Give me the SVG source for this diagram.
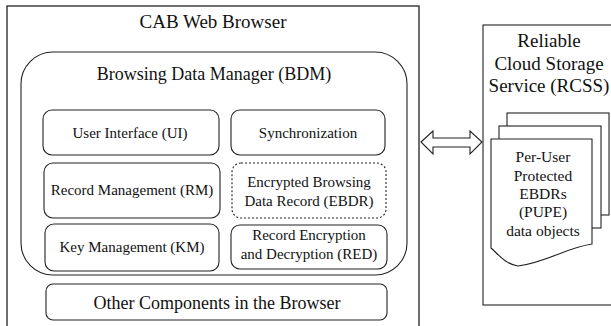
<svg xmlns="http://www.w3.org/2000/svg" width="611" height="326" viewBox="0 0 611 326">
<style>
.box{fill:#fff;stroke:#222;stroke-width:1.1}
.dash{fill:#fff;stroke:#222;stroke-width:1.1;stroke-dasharray:2,2}
.outer{fill:none;stroke:#333;stroke-width:1.4}
text{font-family:'Liberation Serif','DejaVu Serif',serif;fill:#111;text-anchor:middle}
.t19{font-size:19px}
.t18{font-size:18px}
.t15{font-size:15px}
.t16{font-size:15.5px}
</style>
<rect width="611" height="326" fill="#fff"/>
<g id="cab">
<rect class="outer" x="7" y="6" width="412" height="330"/>
<text class="t19" x="213" y="28">CAB Web Browser</text>
</g>
<g id="bdm">
<rect class="box" x="21" y="52" width="386" height="223" rx="32" ry="32"/>
<text class="t18" x="214" y="80">Browsing Data Manager (BDM)</text>
</g>
<g id="ui">
<rect class="box" x="43" y="110" width="176" height="45" rx="9"/>
<text class="t15" x="130" y="138">User Interface (UI)</text>
</g>
<g id="sync">
<rect class="box" x="231" y="110" width="154" height="45" rx="9"/>
<text class="t15" x="308" y="138">Synchronization</text>
</g>
<g id="rm">
<rect class="box" x="44" y="163" width="176" height="55" rx="9"/>
<text class="t15" x="132" y="195">Record Management (RM)</text>
</g>
<g id="ebdr">
<rect class="dash" x="232" y="163" width="154" height="55" rx="9"/>
<text class="t15" x="309" y="187">Encrypted Browsing</text>
<text class="t15" x="309" y="206">Data Record (EBDR)</text>
</g>
<g id="km">
<rect class="box" x="45" y="224" width="174" height="47" rx="9"/>
<text class="t15" x="132" y="252">Key Management (KM)</text>
</g>
<g id="red">
<rect class="box" x="231" y="225" width="156" height="44" rx="9"/>
<text class="t15" x="309" y="240">Record Encryption</text>
<text class="t15" x="309" y="259">and Decryption (RED)</text>
</g>
<g id="other">
<rect class="box" x="46" y="284" width="341" height="36" rx="7"/>
<text class="t18" x="217" y="309">Other Components in the Browser</text>
</g>
<g id="rcss">
<rect class="box" x="483" y="25" width="140" height="280"/>
<text class="t19" x="549" y="47">Reliable</text>
<text class="t19" x="549" y="70">Cloud Storage</text>
<text class="t19" x="549" y="92">Service (RCSS)</text>
</g>
<g id="pupe">
<rect class="box" x="507" y="113" width="102" height="102"/>
<rect class="box" x="499" y="126" width="102" height="102"/>
<path class="box" d="M491,139 H592 V244 C565,248 548,262 518,266 C505,264 498,254 491,248 Z"/>
<text class="t16" x="543" y="162">Per-User</text>
<text class="t16" x="543" y="181">Protected</text>
<text class="t16" x="543" y="199">EBDRs</text>
<text class="t16" x="543" y="217">(PUPE)</text>
<text class="t16" x="543" y="236">data objects</text>
</g>
<g id="connectors">
<polygon class="box" points="421,142 433,131 433,138 470,138 470,131 482,142 470,154 470,147 433,147 433,154"/>
</g>
</svg>
